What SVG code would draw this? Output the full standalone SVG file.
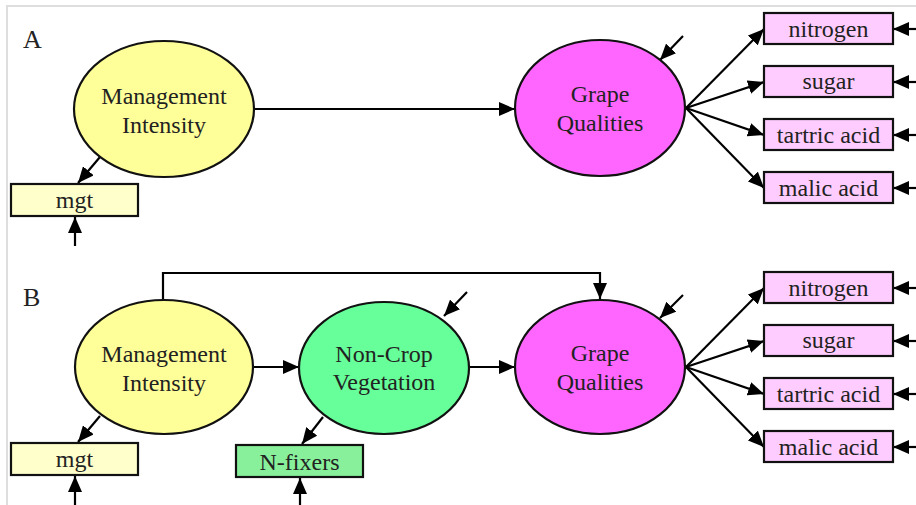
<svg xmlns="http://www.w3.org/2000/svg" width="916" height="505" viewBox="0 0 916 505">
<defs>
<marker id="ah" markerUnits="userSpaceOnUse" markerWidth="16" markerHeight="14" viewBox="0 0 16 14" refX="16" refY="7" orient="auto">
<path d="M0,0 L16,7 L0,14 Z" fill="#000"/>
</marker>
</defs>
<style>
.bg{fill:#fff}
.frame{stroke:#dedede;stroke-width:2;fill:none}
.ar{stroke:#000;stroke-width:2.2;fill:none;marker-end:url(#ah)}
.node{stroke:#111;stroke-width:2.2}
.mi{fill:#ffff99}
.gq{fill:#ff66ff}
.ncv{fill:#66ff99}
.mgt{fill:#ffffcc}
.nf{fill:#88f09a}
.ind{fill:#ffccff}
text{font-family:"Liberation Serif","Times New Roman",serif;fill:#222;text-anchor:middle}
.t{font-size:24px}
.lbl{font-size:26px;text-anchor:start}
</style>
<rect class="bg" x="0" y="0" width="916" height="505"/>
<path class="frame" d="M7,505 V6 H916"/>
<text class="lbl" x="23" y="48">A</text>
<text class="lbl" x="23" y="306">B</text>

<g id="connectors">
<!-- Panel A -->
<line class="ar" x1="100" y1="157" x2="78" y2="183"/>
<line class="ar" x1="75" y1="246" x2="75" y2="217"/>
<line class="ar" x1="254" y1="109" x2="515" y2="109"/>
<line class="ar" x1="683" y1="36" x2="660" y2="60"/>
<line class="ar" x1="686" y1="108" x2="764" y2="29"/>
<line class="ar" x1="686" y1="108" x2="764" y2="82"/>
<line class="ar" x1="686" y1="108" x2="764" y2="135"/>
<line class="ar" x1="686" y1="108" x2="764" y2="188"/>
<line class="ar" x1="916" y1="29" x2="893" y2="29"/>
<line class="ar" x1="916" y1="82" x2="893" y2="82"/>
<line class="ar" x1="916" y1="135" x2="893" y2="135"/>
<line class="ar" x1="916" y1="188" x2="893" y2="188"/>
<!-- Panel B -->
<line class="ar" x1="100" y1="416" x2="78" y2="442"/>
<line class="ar" x1="75" y1="505" x2="75" y2="476"/>
<line class="ar" x1="323" y1="417" x2="302" y2="444"/>
<line class="ar" x1="300" y1="505" x2="300" y2="478"/>
<line class="ar" x1="253" y1="367" x2="299" y2="367"/>
<line class="ar" x1="469" y1="367" x2="515" y2="367"/>
<path class="ar" d="M163,300 V273 H600 V299"/>
<line class="ar" x1="467" y1="292" x2="444" y2="316"/>
<line class="ar" x1="683" y1="295" x2="660" y2="318"/>
<line class="ar" x1="686" y1="367" x2="764" y2="288"/>
<line class="ar" x1="686" y1="367" x2="764" y2="341"/>
<line class="ar" x1="686" y1="367" x2="764" y2="394"/>
<line class="ar" x1="686" y1="367" x2="764" y2="447"/>
<line class="ar" x1="916" y1="288" x2="893" y2="288"/>
<line class="ar" x1="916" y1="341" x2="893" y2="341"/>
<line class="ar" x1="916" y1="394" x2="893" y2="394"/>
<line class="ar" x1="916" y1="447" x2="893" y2="447"/>
</g>

<!-- Panel A nodes -->
<g id="A-management">
<ellipse class="node mi" cx="164" cy="109" rx="90" ry="68"/>
<text class="t" x="164" y="104">Management</text>
<text class="t" x="164" y="133">Intensity</text>
</g>
<g id="A-mgt">
<rect class="node mgt" x="11" y="184" width="127" height="32"/>
<text class="t" x="74.5" y="208">mgt</text>
</g>
<g id="A-grape">
<ellipse class="node gq" cx="600" cy="108" rx="85" ry="68"/>
<text class="t" x="600" y="102">Grape</text>
<text class="t" x="600" y="131">Qualities</text>
</g>
<g id="A-nitrogen">
<rect class="node ind" x="764" y="13" width="129" height="31"/>
<text class="t" x="828.5" y="37">nitrogen</text>
</g>
<g id="A-sugar">
<rect class="node ind" x="764" y="66" width="129" height="31"/>
<text class="t" x="828.5" y="89">sugar</text>
</g>
<g id="A-tartric">
<rect class="node ind" x="764" y="119" width="129" height="31"/>
<text class="t" x="828.5" y="143">tartric acid</text>
</g>
<g id="A-malic">
<rect class="node ind" x="764" y="172" width="129" height="31"/>
<text class="t" x="828.5" y="196">malic acid</text>
</g>

<!-- Panel B nodes -->
<g id="B-management">
<ellipse class="node mi" cx="164" cy="367" rx="89" ry="67"/>
<text class="t" x="164" y="362">Management</text>
<text class="t" x="164" y="391">Intensity</text>
</g>
<g id="B-mgt">
<rect class="node mgt" x="11" y="443" width="127" height="32"/>
<text class="t" x="74.5" y="467">mgt</text>
</g>
<g id="B-noncrop">
<ellipse class="node ncv" cx="384" cy="368" rx="85" ry="66"/>
<text class="t" x="384" y="362">Non-Crop</text>
<text class="t" x="384" y="390">Vegetation</text>
</g>
<g id="B-nfixers">
<rect class="node nf" x="236" y="445" width="127" height="32"/>
<text class="t" x="299.5" y="470">N-fixers</text>
</g>
<g id="B-grape">
<ellipse class="node gq" cx="600" cy="367" rx="85" ry="67"/>
<text class="t" x="600" y="361">Grape</text>
<text class="t" x="600" y="390">Qualities</text>
</g>
<g id="B-nitrogen">
<rect class="node ind" x="764" y="272" width="129" height="31"/>
<text class="t" x="828.5" y="296">nitrogen</text>
</g>
<g id="B-sugar">
<rect class="node ind" x="764" y="325" width="129" height="31"/>
<text class="t" x="828.5" y="348">sugar</text>
</g>
<g id="B-tartric">
<rect class="node ind" x="764" y="378" width="129" height="31"/>
<text class="t" x="828.5" y="402">tartric acid</text>
</g>
<g id="B-malic">
<rect class="node ind" x="764" y="431" width="129" height="31"/>
<text class="t" x="828.5" y="455">malic acid</text>
</g>
</svg>
